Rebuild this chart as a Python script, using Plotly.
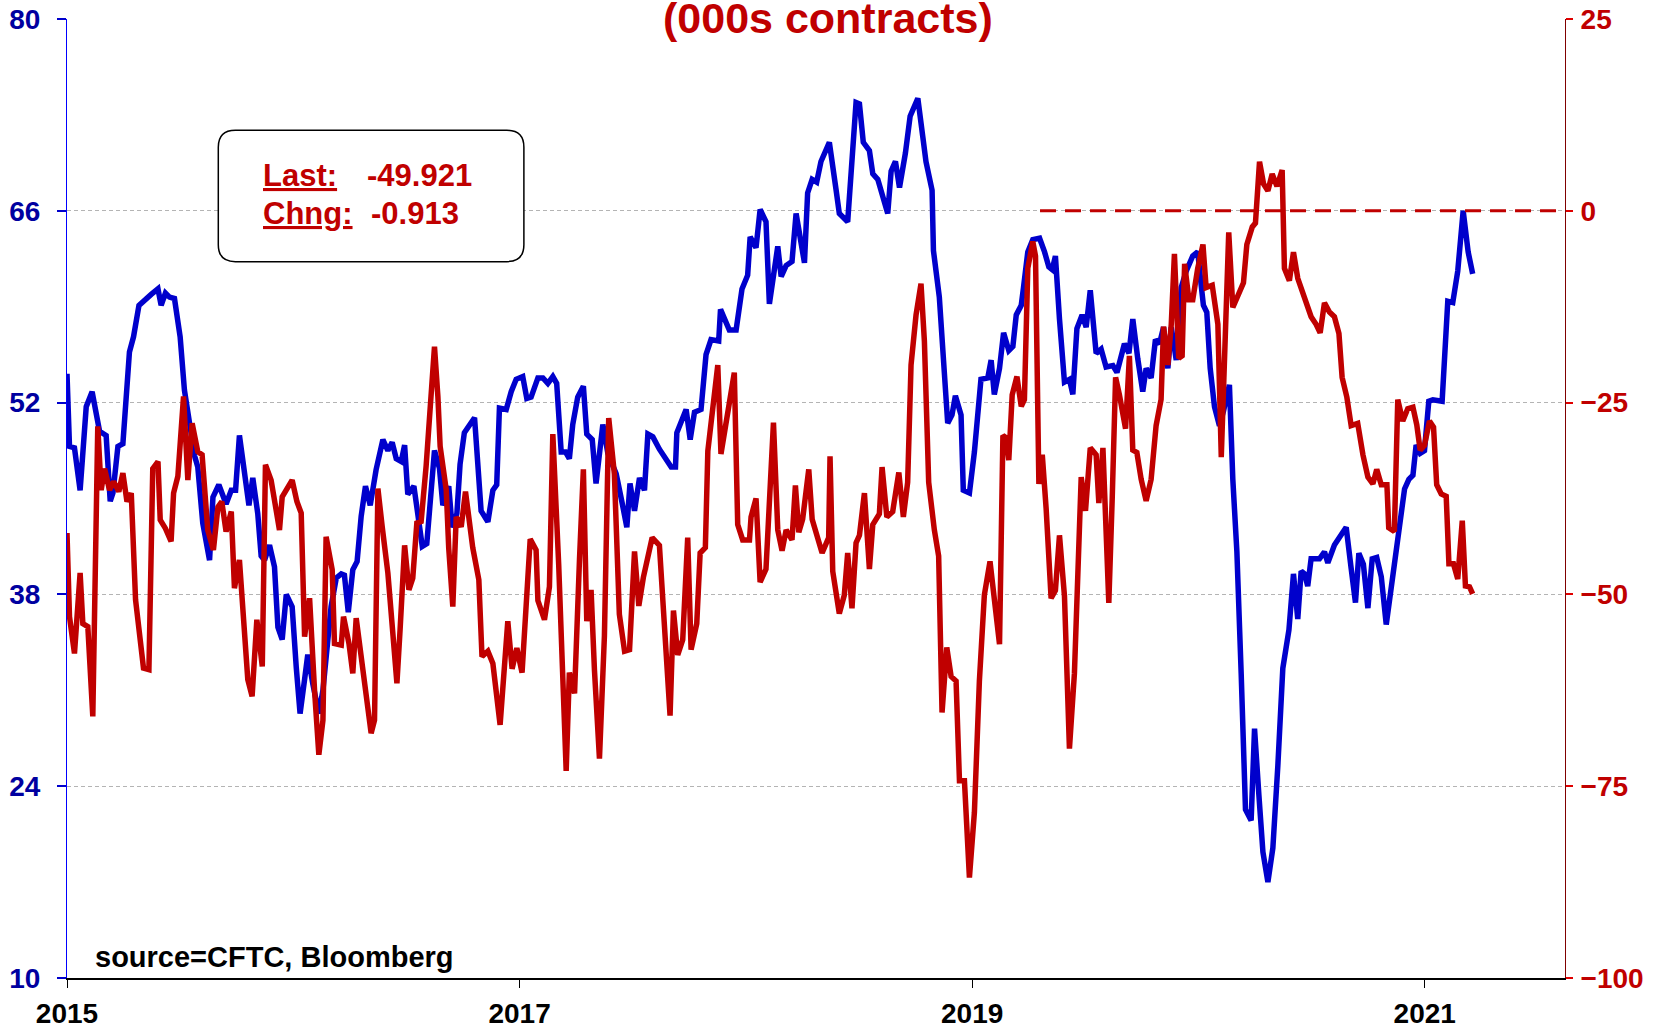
import plotly.graph_objects as go

# weekly positioning (x in decimal years)
blue_x = [
    2015.000, 2015.011, 2015.033, 2015.058, 2015.085, 2015.111, 2015.144, 2015.173, 2015.191, 2015.203,
    2015.225, 2015.247, 2015.276, 2015.294, 2015.318, 2015.343, 2015.372, 2015.402, 2015.416, 2015.435,
    2015.453, 2015.475, 2015.500, 2015.519, 2015.541, 2015.564, 2015.578, 2015.600, 2015.630, 2015.645,
    2015.671, 2015.703, 2015.726, 2015.745, 2015.762, 2015.785, 2015.804, 2015.821, 2015.843, 2015.858,
    2015.873, 2015.895, 2015.917, 2015.932, 2015.951, 2015.969, 2015.995, 2016.013, 2016.030, 2016.050,
    2016.064, 2016.086, 2016.113, 2016.131, 2016.145, 2016.167, 2016.190, 2016.212, 2016.226, 2016.243,
    2016.263, 2016.282, 2016.300, 2016.319, 2016.340, 2016.366, 2016.396, 2016.418, 2016.437, 2016.455,
    2016.477, 2016.492, 2016.506, 2016.533, 2016.550, 2016.570, 2016.590, 2016.605, 2016.624, 2016.646,
    2016.661, 2016.687, 2016.702, 2016.723,
    2016.737, 2016.756, 2016.801, 2016.830, 2016.860, 2016.882, 2016.899, 2016.911, 2016.941, 2016.963,
    2016.985, 2017.014, 2017.032, 2017.051, 2017.081, 2017.103, 2017.125, 2017.147, 2017.164, 2017.184,
    2017.203, 2017.220, 2017.235, 2017.257, 2017.282, 2017.297, 2017.321, 2017.338, 2017.368, 2017.390,
    2017.427, 2017.453, 2017.474, 2017.488, 2017.508, 2017.530, 2017.552, 2017.567, 2017.589,
    2017.618, 2017.670, 2017.689, 2017.695, 2017.736, 2017.754, 2017.773, 2017.802, 2017.824, 2017.846,
    2017.880, 2017.888, 2017.927, 2017.957, 2017.983, 2018.008, 2018.019, 2018.045, 2018.063, 2018.089,
    2018.104, 2018.141, 2018.156, 2018.178, 2018.204, 2018.222, 2018.259, 2018.273, 2018.293, 2018.313,
    2018.332, 2018.369, 2018.399, 2018.413, 2018.450, 2018.465, 2018.487, 2018.502, 2018.519, 2018.546,
    2018.561, 2018.583, 2018.605, 2018.627, 2018.642, 2018.661, 2018.679, 2018.705, 2018.726, 2018.760,
    2018.782, 2018.796, 2018.823, 2018.829, 2018.855, 2018.877, 2018.892, 2018.911, 2018.926, 2018.951,
    2018.961, 2018.988, 2019.010, 2019.039, 2019.069, 2019.084, 2019.098,
    2019.121, 2019.139, 2019.162, 2019.180, 2019.195, 2019.217, 2019.227, 2019.246, 2019.268, 2019.298,
    2019.320, 2019.339, 2019.354, 2019.368, 2019.386, 2019.408, 2019.430, 2019.445, 2019.463, 2019.486,
    2019.504, 2019.522, 2019.548, 2019.570, 2019.592, 2019.622, 2019.640, 2019.673, 2019.693, 2019.710,
    2019.732, 2019.754, 2019.769, 2019.791, 2019.810, 2019.828, 2019.846, 2019.865, 2019.880, 2019.902,
    2019.924, 2019.946, 2019.975, 2019.997, 2020.012, 2020.022, 2020.037, 2020.052, 2020.071, 2020.093,
    2020.111, 2020.137, 2020.152, 2020.170, 2020.189, 2020.208, 2020.233, 2020.248, 2020.267, 2020.285,
    2020.307, 2020.329, 2020.351, 2020.373, 2020.400, 2020.420, 2020.439, 2020.454, 2020.469, 2020.483,
    2020.498, 2020.535, 2020.557, 2020.572, 2020.601, 2020.626, 2020.653, 2020.675, 2020.694, 2020.709,
    2020.729, 2020.749, 2020.768, 2020.788, 2020.808, 2020.830, 2020.852, 2020.877, 2020.896, 2020.911,
    2020.930, 2020.948, 2020.962, 2020.980, 2020.999, 2021.018, 2021.036, 2021.077, 2021.102, 2021.124,
    2021.146, 2021.170, 2021.192, 2021.212,
]
blue_y = [
    54.1, 48.8, 48.7, 45.6, 51.7, 52.8, 49.9, 49.6, 44.8, 45.4,
    48.8, 49.0, 55.7, 56.8, 59.1, 59.5, 59.9, 60.3, 59.1, 60.0,
    59.7, 59.6, 56.8, 52.9, 50.5, 48.1, 47.3, 43.2, 40.5, 45.1,
    46.0, 44.6, 45.6, 45.6, 49.6, 47.1, 44.5, 46.5, 43.9, 40.8,
    40.5, 41.6, 40.0, 35.6, 34.7, 38.0, 37.1, 32.7, 29.3, 31.8,
    33.6, 31.5, 29.3, 31.0, 33.7, 37.1, 39.2, 39.5, 39.4, 36.7,
    39.8, 40.4, 43.7, 45.9, 44.5, 47.1, 49.3, 48.5, 49.1, 47.9,
    47.7, 48.9, 45.3, 45.9, 43.9, 41.5, 41.7, 44.4, 48.5, 47.2,
    44.5, 45.9, 42.9, 43.9,
    47.5, 49.8, 50.9, 44.1, 43.3, 45.6, 46.0, 51.6, 51.5, 52.8,
    53.7, 53.9, 52.3, 52.4, 53.8, 53.8, 53.4, 53.9, 53.4, 48.4,
    48.4, 47.9, 50.4, 52.4, 53.2, 49.7, 49.3, 46.1, 50.4, 48.3,
    46.8, 44.7, 42.9, 46.1, 44.1, 46.5, 45.6, 49.7, 49.5,
    48.6, 47.3, 47.3, 49.8, 51.5, 49.3, 51.3, 51.5, 55.5, 56.6,
    56.5, 58.8, 57.3, 57.3, 60.3, 61.3, 64.1, 63.3, 66.1, 65.2,
    59.2, 63.4, 61.2, 62.0, 62.3, 65.8, 62.2, 67.3, 68.3, 68.1,
    69.6, 71.0, 67.5, 65.8, 65.2, 68.3, 73.9, 73.8, 71.0, 70.4,
    68.7, 68.3, 67.2, 65.8, 68.9, 69.6, 67.7, 70.2, 72.9, 74.2,
    71.4, 69.6, 67.5, 63.1, 59.7, 54.9, 50.5, 51.1, 52.5, 51.1,
    45.6, 45.4, 48.4, 53.7, 53.8, 55.1, 52.6,
    54.5, 57.1, 55.8, 56.1, 58.4, 59.1, 60.4, 63.0, 63.9, 64.0,
    63.0, 61.9, 61.7, 62.7, 58.1, 53.5, 53.7, 52.6, 57.4, 58.4,
    57.5, 60.2, 55.6, 55.9, 54.6, 54.7, 54.2, 56.3, 55.6, 58.1,
    55.2, 52.8, 54.5, 53.8, 56.6, 56.3, 57.5, 54.5, 57.5, 55.1,
    60.4, 61.6, 62.7, 63.0, 60.6, 59.1, 58.6, 54.5, 51.7, 50.3,
    51.4, 53.3, 46.4, 41.1, 32.2, 22.3, 21.5, 28.2, 23.4, 19.2,
    17.0, 19.5, 25.5, 32.6, 35.4, 39.5, 36.2, 39.7, 39.5, 38.6,
    40.6, 40.6, 41.1, 40.3, 41.6, 42.3, 42.9, 39.9, 37.4, 41.0,
    40.2, 37.0, 40.6, 40.7, 39.3, 35.8, 38.3, 41.5, 43.6, 45.7,
    46.4, 46.7, 48.9, 48.3, 48.5, 52.1, 52.2, 52.1, 59.4, 59.3,
    61.6, 66.0, 63.0, 61.4,
]

red_x = [
    2015.000, 2015.011, 2015.033, 2015.058, 2015.070, 2015.092, 2015.114, 2015.136, 2015.151, 2015.166,
    2015.188, 2015.206, 2015.229, 2015.247, 2015.265, 2015.284, 2015.303, 2015.321, 2015.338, 2015.362,
    2015.379, 2015.402, 2015.412, 2015.435, 2015.460, 2015.471, 2015.490, 2015.515, 2015.534, 2015.553,
    2015.578, 2015.597, 2015.622, 2015.647, 2015.667, 2015.684, 2015.703, 2015.726, 2015.740, 2015.762,
    2015.777, 2015.799, 2015.818, 2015.839, 2015.863, 2015.877, 2015.902, 2015.939, 2015.951, 2015.995,
    2016.016, 2016.035, 2016.050, 2016.072, 2016.094, 2016.113, 2016.131, 2016.145, 2016.172, 2016.182,
    2016.212, 2016.222, 2016.246, 2016.263, 2016.278, 2016.300, 2016.322, 2016.344, 2016.359, 2016.374,
    2016.393, 2016.418, 2016.440, 2016.458, 2016.472, 2016.492, 2016.511, 2016.528, 2016.546, 2016.565,
    2016.587, 2016.605, 2016.624, 2016.639, 2016.649, 2016.676, 2016.687, 2016.705, 2016.720,
    2016.742, 2016.761, 2016.793, 2016.820, 2016.834, 2016.860, 2016.882, 2016.914, 2016.948, 2016.967,
    2016.988, 2017.011, 2017.047, 2017.073, 2017.081, 2017.110, 2017.132, 2017.147, 2017.173, 2017.188,
    2017.206, 2017.220, 2017.243, 2017.265, 2017.282, 2017.297, 2017.316, 2017.331, 2017.353, 2017.375,
    2017.394, 2017.419, 2017.441, 2017.464, 2017.486, 2017.508, 2017.527, 2017.547, 2017.586,
    2017.618, 2017.640, 2017.665, 2017.680, 2017.699, 2017.721, 2017.743, 2017.758, 2017.783, 2017.798,
    2017.821, 2017.832, 2017.854, 2017.876, 2017.890, 2017.920, 2017.949, 2017.964, 2017.986, 2018.016,
    2018.023, 2018.045, 2018.063, 2018.089, 2018.122, 2018.141, 2018.160, 2018.178, 2018.204, 2018.219,
    2018.234, 2018.251, 2018.278, 2018.293, 2018.313, 2018.337, 2018.366, 2018.372, 2018.384, 2018.413,
    2018.435, 2018.450, 2018.469, 2018.487, 2018.502, 2018.524, 2018.546, 2018.561, 2018.590, 2018.602,
    2018.623, 2018.649, 2018.676, 2018.696, 2018.715, 2018.730, 2018.752, 2018.774, 2018.789, 2018.808,
    2018.833, 2018.852, 2018.867, 2018.888, 2018.907, 2018.929, 2018.944, 2018.966, 2018.988, 2019.010,
    2019.032, 2019.054, 2019.079, 2019.098,
    2019.121, 2019.136, 2019.150, 2019.162, 2019.177, 2019.198, 2019.217, 2019.231, 2019.246, 2019.268,
    2019.280, 2019.295, 2019.310, 2019.327, 2019.349, 2019.368, 2019.386, 2019.408, 2019.430, 2019.452,
    2019.482, 2019.501, 2019.522, 2019.548, 2019.560, 2019.578, 2019.589, 2019.604, 2019.619, 2019.634,
    2019.651, 2019.678, 2019.695, 2019.710, 2019.728, 2019.747, 2019.769, 2019.791, 2019.813, 2019.835,
    2019.846, 2019.865, 2019.880, 2019.894, 2019.913, 2019.928, 2019.939, 2019.958, 2019.975, 2019.997,
    2020.020, 2020.034, 2020.061, 2020.086, 2020.101, 2020.120, 2020.134, 2020.152, 2020.174, 2020.199,
    2020.214, 2020.238, 2020.252, 2020.270, 2020.288, 2020.307, 2020.326, 2020.347, 2020.370, 2020.380,
    2020.402, 2020.420, 2020.439, 2020.469, 2020.498, 2020.520, 2020.538, 2020.557, 2020.579, 2020.601,
    2020.621, 2020.635, 2020.656, 2020.675, 2020.704, 2020.727, 2020.749, 2020.771, 2020.788, 2020.808,
    2020.833, 2020.841, 2020.866, 2020.881, 2020.903, 2020.925, 2020.948, 2020.965, 2020.980, 2020.999,
    2021.021, 2021.039, 2021.053, 2021.073, 2021.095, 2021.107, 2021.127, 2021.146, 2021.166, 2021.180,
    2021.198, 2021.212,
]
red_y = [
    -42.0, -52.9, -57.7, -47.2, -53.8, -54.2, -65.9, -28.1, -36.4, -33.6,
    -36.4, -35.3, -36.6, -34.2, -37.9, -36.8, -50.7, -55.1, -59.6, -59.8,
    -33.6, -32.7, -40.3, -41.4, -43.1, -36.8, -34.6, -24.2, -35.1, -27.7,
    -31.4, -31.8, -41.6, -44.2, -38.6, -37.9, -41.8, -39.2, -49.2, -45.5,
    -52.9, -61.1, -63.3, -53.3, -59.4, -33.1, -35.1, -41.6, -37.3, -35.1,
    -37.9, -39.4, -55.5, -50.5, -62.5, -70.9, -66.4, -42.5, -46.8, -56.4,
    -56.6, -52.9, -56.4, -60.3, -53.1, -58.1, -63.8, -68.1, -66.4, -36.2,
    -41.2, -47.2, -55.1, -61.6, -54.6, -43.6, -49.4, -47.9, -40.7, -40.5,
    -33.3, -25.1, -17.7, -24.2, -30.7, -36.4, -44.0, -51.6, -39.9,
    -41.2, -36.6, -43.9, -48.1, -58.1, -57.4, -59.0, -67.0, -53.5, -59.7,
    -57.0, -60.2, -42.8, -44.2, -50.8, -53.3, -49.0, -29.1, -46.2, -58.1,
    -73.0, -60.2, -62.9, -45.3, -33.7, -53.5, -49.4, -59.9, -71.4, -55.4,
    -27.0, -34.3, -52.6, -57.4, -57.2, -44.4, -51.5, -47.8, -42.6,
    -43.6, -53.9, -65.8, -52.1, -57.9, -55.9, -42.6, -57.2, -53.8, -44.6,
    -43.9, -31.3, -26.2, -20.1, -31.7, -26.6, -21.1, -40.9, -42.9, -42.9,
    -39.9, -37.5, -48.4, -46.7, -27.6, -41.6, -44.3, -41.6, -42.9, -35.8,
    -41.9, -40.2, -33.7, -40.2, -42.1, -44.6, -42.6, -32.0, -47.0, -52.5,
    -50.1, -44.6, -51.8, -43.3, -42.3, -36.8, -46.7, -40.9, -39.5, -33.4,
    -39.9, -39.2, -34.1, -39.9, -35.4, -20.1, -13.6, -9.5, -17.0, -35.4,
    -41.6, -45.0, -65.4, -56.9, -60.7, -61.3, -74.3, -74.3, -86.9, -78.4,
    -61.3, -50.1, -45.7, -50.1,
    -56.5, -29.3, -29.6, -32.5, -24.0, -21.6, -25.5, -24.6, -7.5, -4.0,
    -5.9, -35.6, -31.8, -38.8, -50.5, -49.5, -42.3, -50.2, -70.1, -60.3,
    -34.7, -39.1, -30.9, -31.8, -38.1, -30.9, -40.7, -51.1, -37.5, -21.7,
    -24.0, -28.4, -18.9, -31.2, -31.5, -35.0, -37.8, -35.0, -28.0, -24.6,
    -15.1, -20.1, -14.8, -5.6, -19.2, -18.9, -6.9, -11.6, -11.6, -7.5,
    -4.4, -10.0, -9.7, -14.8, -32.1, -16.0, -2.8, -12.6, -11.0, -9.4,
    -4.4, -2.1, -1.6, 6.4, 3.5, 2.6, 4.8, 3.2, 5.3, -7.5,
    -9.1, -5.4, -8.8, -11.3, -13.8, -14.8, -15.9, -12.0, -13.2, -13.8,
    -16.0, -21.7, -24.3, -28.0, -27.7, -31.8, -34.7, -35.6, -33.7, -35.7,
    -35.7, -41.3, -41.8, -24.6, -27.4, -25.8, -25.6, -27.9, -31.2, -30.6,
    -27.4, -28.2, -35.7, -36.9, -37.2, -46.0, -46.0, -48.0, -40.4, -48.9,
    -49.008, -49.921,
]

# zero reference on the right axis
zero_x = [2019.30, 2021.62]
zero_y = [0, 0]

year_ticks = [2015, 2017, 2019, 2021]
left_ticks = [10, 24, 38, 52, 66, 80]
right_ticks = [-100, -75, -50, -25, 0, 25]

BLUE = '#0000CC'
RED = '#C00000'
FONT = 'Liberation Sans, Arial, sans-serif'

fig = go.Figure()

fig.add_trace(go.Scatter(
    x=blue_x, y=blue_y, mode='lines',
    line=dict(color=BLUE, width=5.5),
    yaxis='y', showlegend=False
))
fig.add_trace(go.Scatter(
    x=red_x, y=red_y, mode='lines',
    line=dict(color=RED, width=5.5),
    yaxis='y2', showlegend=False
))
fig.add_trace(go.Scatter(
    x=zero_x, y=zero_y, mode='lines',
    line=dict(color=RED, width=3, dash='16px,9px'),
    yaxis='y2', showlegend=False
))

# white strip behind title hides middle of the top gridline
fig.add_shape(type='rect', xref='paper', yref='paper',
              x0=0.208, x1=0.808, y0=0.985, y1=1.02,
              fillcolor='white', line=dict(width=0), layer='above')

# rounded box for last/chng
x0, x1, y0, y1 = 0.101, 0.305, 0.747, 0.884
rx, ry = 0.0114, 0.0177
box_path = (f'M {x0+rx},{y1} L {x1-rx},{y1} Q {x1},{y1} {x1},{y1-ry} '
            f'L {x1},{y0+ry} Q {x1},{y0} {x1-rx},{y0} L {x0+rx},{y0} '
            f'Q {x0},{y0} {x0},{y0+ry} L {x0},{y1-ry} Q {x0},{y1} {x0+rx},{y1} Z')
fig.add_shape(type='path', xref='paper', yref='paper', path=box_path,
              fillcolor='white', line=dict(color='black', width=1.5), layer='above')

box_font = dict(family=FONT, size=31, color=RED, weight='bold')
fig.add_annotation(x=0.1296, y=0.8373, xref='paper', yref='paper', xanchor='left', yanchor='middle',
                   text='<u>Last:</u>', showarrow=False, font=box_font)
fig.add_annotation(x=0.1986, y=0.8373, xref='paper', yref='paper', xanchor='left', yanchor='middle',
                   text='-49.921', showarrow=False, font=box_font)
fig.add_annotation(x=0.1296, y=0.797, xref='paper', yref='paper', xanchor='left', yanchor='middle',
                   text='<u>Chng:</u>', showarrow=False, font=box_font)
fig.add_annotation(x=0.2019, y=0.797, xref='paper', yref='paper', xanchor='left', yanchor='middle',
                   text='-0.913', showarrow=False, font=box_font)

# title (top line is cut off in the original)
fig.add_annotation(x=0.508, y=1.001, xref='paper', yref='paper', xanchor='center', yanchor='middle',
                   text='(000s contracts)', showarrow=False,
                   font=dict(family=FONT, size=43, color=RED, weight='bold'))

fig.add_annotation(x=0.0172, y=0.022, xref='paper', yref='paper', xanchor='left', yanchor='middle',
                   text='source=CFTC, Bloomberg', showarrow=False,
                   font=dict(family=FONT, size=29, color='black', weight='bold'))

fig.update_layout(
    width=1653, height=1028,
    margin=dict(l=67, r=88, t=19, b=50, autoexpand=False),
    paper_bgcolor='white', plot_bgcolor='white',
    showlegend=False,
    xaxis=dict(
        range=[2015, 2021.62], automargin=False,
        tickvals=year_ticks, ticktext=[str(t) for t in year_ticks],
        showgrid=False, zeroline=False,
        showline=True, linecolor='black', linewidth=2,
        ticks='outside', ticklen=8, tickwidth=1, tickcolor='black',
        ticklabelstandoff=1,
        tickfont=dict(family=FONT, size=28, color='black', weight='bold'),
    ),
    yaxis=dict(
        range=[10, 80], tickvals=left_ticks, automargin=False,
        showgrid=True, gridcolor='#B4B4B4', gridwidth=1, griddash='4px,3px',
        zeroline=False,
        showline=True, linecolor='#0000FF', linewidth=1,
        ticks='outside', ticklen=9, tickwidth=2, tickcolor=BLUE,
        ticklabelstandoff=11,
        tickfont=dict(family=FONT, size=28, color='#0000A0', weight='bold'),
    ),
    yaxis2=dict(
        range=[-100, 25], tickvals=right_ticks, automargin=False,
        overlaying='y', side='right',
        showgrid=False, zeroline=False,
        showline=True, linecolor='#800000', linewidth=1,
        ticks='outside', ticklen=7, tickwidth=2, tickcolor='#E00000',
        ticklabelstandoff=2,
        tickfont=dict(family=FONT, size=28, color=RED, weight='bold'),
    ),
)

# page has default body margin; drop it so the figure sits at the window corner
fig.write_html("out.html", config={'displayModeBar': False},
               post_script="document.body.style.margin='0px';")
